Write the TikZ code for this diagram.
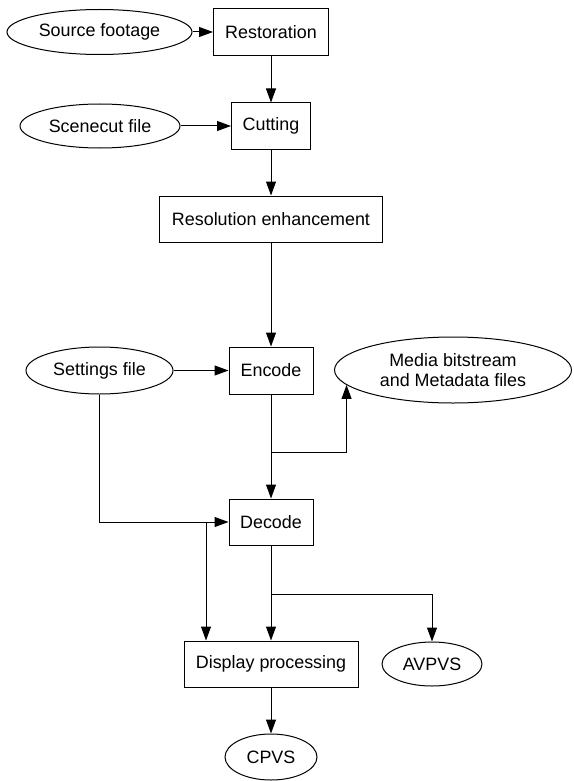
\documentclass[tikz,border=0pt]{standalone}
\usepackage{fontspec}
\setmainfont{Liberation Sans}
\usetikzlibrary{shapes.geometric,arrows.meta}
\begin{document}
\begin{tikzpicture}[x=1pt,y=-1pt,
  every node/.style={font=\fontsize{17.9}{20.5}\selectfont, inner sep=0pt, line width=1pt},
  box/.style={draw, rectangle, minimum height=46pt},
  oval/.style={draw, ellipse, minimum height=45pt},
  conn/.style={line width=1pt},
  arr/.style={conn, -{Triangle[length=14pt,width=10pt]}}]
\useasboundingbox (0,0) rectangle (573,781);
% nodes
\node[oval, minimum width=185pt] (source) at (99.5,32) {Source footage};
\node[box, minimum width=115pt, minimum height=47pt] (restor) at (271,32) {Restoration};
\node[oval, minimum width=160pt, minimum height=44pt] (scene) at (100,126) {Scenecut file};
\node[box, minimum width=79pt] (cut) at (271,126) {Cutting};
\node[box, minimum width=223pt] (res) at (271,219) {Resolution enhancement};
\node[oval, minimum width=147pt, minimum height=47pt] (settings) at (99.5,370.5) {Settings file};
\node[box, minimum width=84pt, minimum height=47pt] (encode) at (271,370.5) {Encode};
\node[oval, minimum width=237pt, minimum height=66pt, align=center] (media) at (453,370) {Media bitstream\\and Metadata files};
\node[box, minimum width=84pt] (decode) at (271,522) {Decode};
\node[box, minimum width=174pt] (display) at (271,664) {Display processing};
\node[oval, minimum width=100pt, minimum height=44pt] (avpvs) at (432,664) {AVPVS};
\node[oval, minimum width=92pt, minimum height=46pt] (cpvs) at (271,757) {CPVS};
% junctions
\coordinate (j1) at (271,452);
\coordinate (j2) at (206,522);
\coordinate (j3) at (271,594);
% connectors
\draw[arr] (source) -- (restor);
\draw[arr] (restor) -- (cut);
\draw[arr] (scene) -- (cut);
\draw[arr] (cut) -- (res);
\draw[arr] (res) -- (encode);
\draw[arr] (settings) -- (encode);
\draw[arr] (encode) -- (decode);
\draw[arr] (j1) -| (media.188.3);
\draw[arr] (settings.south) |- (decode.west);
\draw[arr] (j2) -- (j2 |- display.north);
\draw[arr] (decode) -- (display);
\draw[arr] (j3) -| (avpvs.north);
\draw[arr] (display) -- (cpvs);
\end{tikzpicture}
\end{document}
